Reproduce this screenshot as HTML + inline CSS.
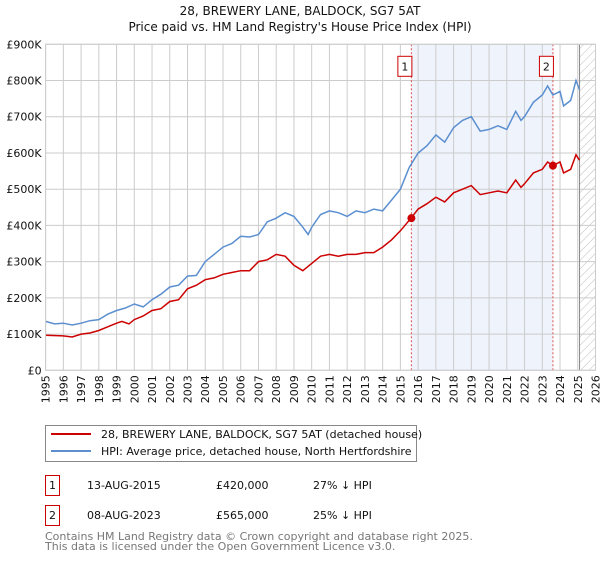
<!DOCTYPE html>
<html><head><meta charset="utf-8"><style>
body{margin:0;background:#fff;font-family:"Liberation Sans","DejaVu Sans",sans-serif;}
svg text{font-family:"DejaVu Sans","Liberation Sans",sans-serif;}
</style></head><body>
<svg id="c" width="600" height="560" viewBox="0 0 600 560" xmlns="http://www.w3.org/2000/svg">
<defs><pattern id="hatch" width="6" height="6" patternUnits="userSpaceOnUse" patternTransform="rotate(45)"><line x1="0" y1="0" x2="0" y2="6" stroke="#bbb" stroke-width="1"/></pattern></defs>
<text x="300" y="15" text-anchor="middle" font-size="12" fill="#111">28, BREWERY LANE, BALDOCK, SG7 5AT</text>
<text x="300" y="31" text-anchor="middle" font-size="12" fill="#111">Price paid vs. HM Land Registry's House Price Index (HPI)</text>
<g id="plot"></g>
<g>
<rect x="45.5" y="425.5" width="371" height="36" fill="#fff" stroke="#888"/>
<line x1="51" y1="434" x2="91" y2="434" stroke="#cc0000" stroke-width="2"/>
<text x="101" y="438" font-size="11" fill="#111">28, BREWERY LANE, BALDOCK, SG7 5AT (detached house)</text>
<line x1="51" y1="451" x2="91" y2="451" stroke="#5b8fd0" stroke-width="2"/>
<text x="101" y="455" font-size="11" fill="#111">HPI: Average price, detached house, North Hertfordshire</text>
</g>
<g font-size="11" fill="#111">
<rect x="45.5" y="475.5" width="14" height="20" fill="#fff" stroke="#cc0000"/>
<text x="52.5" y="489" text-anchor="middle">1</text>
<text x="87" y="489">13-AUG-2015</text><text x="216" y="489">£420,000</text><text x="313" y="489">27% ↓ HPI</text>
<rect x="45.5" y="505.5" width="14" height="20" fill="#fff" stroke="#cc0000"/>
<text x="52.5" y="519" text-anchor="middle">2</text>
<text x="87" y="519">08-AUG-2023</text><text x="216" y="519">£565,000</text><text x="313" y="519">25% ↓ HPI</text>
</g>
<text x="45" y="540" font-size="11" fill="#777">Contains HM Land Registry data © Crown copyright and database right 2025.</text>
<text x="45" y="550" font-size="11" fill="#777">This data is licensed under the Open Government Licence v3.0.</text>
</svg>
<script>
const hpiYears=[1995,1995.5,1996,1996.5,1997,1997.5,1998,1998.5,1999,1999.5,2000,2000.5,2001,2001.5,2002,2002.5,2003,2003.5,2004,2004.5,2005,2005.5,2006,2006.5,2007,2007.5,2008,2008.5,2009,2009.5,2009.8,2010,2010.5,2011,2011.5,2012,2012.5,2013,2013.5,2014,2014.5,2015,2015.5,2016,2016.5,2017,2017.5,2018,2018.5,2019,2019.5,2020,2020.5,2021,2021.5,2021.8,2022,2022.5,2023,2023.3,2023.6,2024,2024.2,2024.6,2024.9,2025.1];
const hpiValues=[135,128,130,125,130,137,140,155,165,172,183,175,195,210,230,235,260,262,300,320,340,350,370,368,375,410,420,435,425,395,375,395,430,440,435,425,440,435,445,440,470,500,560,600,620,650,630,670,690,700,660,665,675,665,715,690,700,740,760,785,760,770,730,745,800,775];
const priceYears=[1995,1996,1996.5,1997,1997.5,1998,1998.5,1999,1999.3,1999.7,2000,2000.5,2001,2001.5,2002,2002.5,2003,2003.5,2004,2004.5,2005,2005.5,2006,2006.5,2007,2007.5,2008,2008.5,2009,2009.5,2010,2010.5,2011,2011.5,2012,2012.5,2013,2013.5,2014,2014.5,2015,2015.6,2016,2016.5,2017,2017.5,2018,2018.5,2019,2019.5,2020,2020.5,2021,2021.5,2021.8,2022,2022.5,2023,2023.3,2023.6,2024,2024.2,2024.6,2024.9,2025.1];
const priceValues=[97,95,92,100,103,110,120,130,135,128,140,150,165,170,190,195,225,235,250,255,265,270,275,275,300,305,320,315,290,275,295,315,320,315,320,320,325,325,340,360,385,420,445,460,478,465,490,500,510,485,490,495,490,525,505,515,545,555,575,565,575,545,555,595,580];
const saleYears=[2015.62,2023.6];
const saleValues=[420,565];
const saleLabels=["1","2"];
const yTicks=[0,100,200,300,400,500,600,700,800,900];
const yTickLabels=["£0","£100K","£200K","£300K","£400K","£500K","£600K","£700K","£800K","£900K"];
const xTicks=[1995,1996,1997,1998,1999,2000,2001,2002,2003,2004,2005,2006,2007,2008,2009,2010,2011,2012,2013,2014,2015,2016,2017,2018,2019,2020,2021,2022,2023,2024,2025,2026];
const dataEnd=2025.1;

const L=45.6,R=595.5,T=44.3,B=370.3;
const x=y=>L+(y-1995)/31*(R-L);
const yv=v=>B-v/900*(B-T);
const NS="http://www.w3.org/2000/svg";
const g=document.getElementById('plot');
function mk(t,a,p){const e=document.createElementNS(NS,t);for(const k in a)e.setAttribute(k,a[k]);(p||g).appendChild(e);return e;}
const sh=mk('rect',{x:x(saleYears[0]),y:T,width:x(saleYears[1])-x(saleYears[0]),height:B-T,fill:'#eef3fc'});


const ht=mk('rect',{x:x(dataEnd),y:T,width:R-x(dataEnd),height:B-T,fill:'url(#hatch)'});


yTicks.forEach((t,i)=>{
 const l=mk('line',{x1:L,x2:R,y1:yv(t),y2:yv(t),stroke:'#ccc','stroke-width':1});
 
 
 const tx=mk('text',{x:L-4,y:yv(t)+4,'text-anchor':'end','font-size':11,fill:'#111'});
 tx.textContent=yTickLabels[i];
 
 
});
xTicks.forEach(t=>{
 const l=mk('line',{x1:x(t),x2:x(t),y1:T,y2:B,stroke:'#ccc','stroke-width':1});
 
 
 const tx=mk('text',{transform:`translate(${x(t)+4},${B+5}) rotate(-90)`,'text-anchor':'end','font-size':11,fill:'#111'});
 tx.textContent=t;
 
 
});
mk('line',{x1:x(dataEnd),x2:x(dataEnd),y1:T,y2:B,stroke:'#888'});
saleYears.forEach((s,i)=>{
 const l=mk('line',{x1:x(s),x2:x(s),y1:T,y2:B,stroke:'#e05050','stroke-dasharray':'2,2','stroke-width':1});
 
 
 const r=mk('rect',{x:x(s)-13.5,y:T+12,width:14,height:20,fill:'#fff',stroke:'#cc0000'});
 
 
 const tx=mk('text',{x:x(s)-6.5,y:T+26,'text-anchor':'middle','font-size':11,fill:'#111'});
 tx.textContent=saleLabels[i];
});
function line(xs,vs,col,name){
 const p=mk('path',{d:xs.map((a,i)=>(i?'L':'M')+x(a).toFixed(1)+','+yv(vs[i]).toFixed(1)).join(''),fill:'none',stroke:col,'stroke-width':1.5});
 
 
}
line(hpiYears,hpiValues,'#5b8fd0','hpi-line');
line(priceYears,priceValues,'#cc0000','price-line');
saleYears.forEach((s,i)=>{
 const c=mk('circle',{cx:x(s),cy:yv(saleValues[i]),r:4,fill:'#cc0000'});
 
 
});
mk('rect',{x:L,y:T,width:R-L,height:B-T,fill:'none',stroke:'#ccc'});
</script>
</body></html>
